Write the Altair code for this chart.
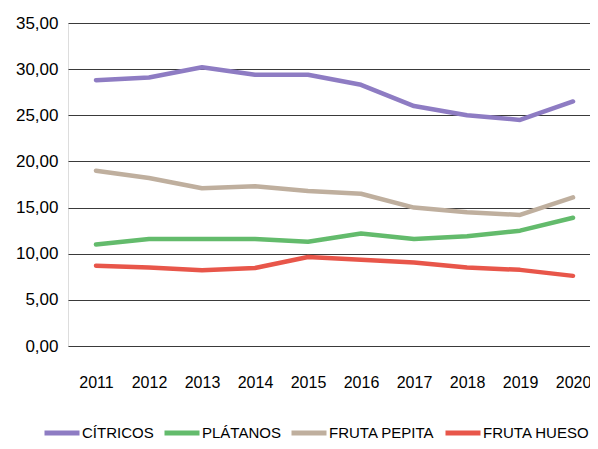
import altair as alt
import pandas as pd

years = [2011, 2012, 2013, 2014, 2015, 2016, 2017, 2018, 2019, 2020]
citricos = [28.8, 29.1, 30.2, 29.4, 29.4, 28.3, 26.0, 25.0, 24.5, 26.5]
platanos = [11.0, 11.6, 11.6, 11.6, 11.3, 12.2, 11.6, 11.9, 12.5, 13.9]
fruta_pepita = [19.0, 18.2, 17.1, 17.3, 16.8, 16.5, 15.0, 14.5, 14.2, 16.1]
fruta_hueso = [8.7, 8.5, 8.2, 8.45, 9.65, 9.35, 9.05, 8.5, 8.25, 7.6]

series_names = ["CÍTRICOS", "PLÁTANOS", "FRUTA PEPITA", "FRUTA HUESO"]
series_colors = ["#8E7CC3", "#63BB6C", "#BFAF9E", "#E8564A"]
y_ticks = [0, 5, 10, 15, 20, 25, 30, 35]

rows = []
for name, vals in zip(series_names, [citricos, platanos, fruta_pepita, fruta_hueso]):
    for yr, v in zip(years, vals):
        rows.append({"year": yr, "value": v, "serie": name})
df = pd.DataFrame(rows)

FONT = "Liberation Sans, Arial"

chart = alt.Chart(df).mark_line(strokeWidth=4.5, strokeCap="round", strokeJoin="round").encode(
    x=alt.X("year:Q",
            scale=alt.Scale(domain=[2010.472, 2020.32], nice=False, zero=False),
            axis=alt.Axis(values=years, format="d", title=None, grid=False, ticks=False,
                          domain=False, labelPadding=28, labelFontSize=16,
                          labelColor="#000", labelFont=FONT)),
    y=alt.Y("value:Q",
            scale=alt.Scale(domain=[0, 35], nice=False),
            axis=alt.Axis(values=y_ticks, format=".2f", title=None, ticks=False, domain=False,
                          gridColor="#3a3a3a", gridWidth=1, gridOpacity=1,
                          labelPadding=10, labelFontSize=17, labelColor="#000",
                          labelFont=FONT)),
    color=alt.Color("serie:N",
                    scale=alt.Scale(domain=series_names, range=series_colors),
                    legend=alt.Legend(title=None, orient="none", direction="horizontal",
                                      legendX=-26, legendY=390,
                                      symbolType="stroke", symbolSize=1225,
                                      symbolStrokeWidth=5, labelFontSize=15,
                                      labelFont=FONT, labelColor="#000",
                                      labelOffset=0, columnPadding=0)),
).properties(
    width=522, height=323,
    autosize=alt.AutoSizeParams(type="none"),
    padding={"left": 60, "top": 15, "right": 0, "bottom": 95},
).configure_view(stroke=None).configure(
    locale={"number": {"decimal": ",", "thousands": ".", "grouping": [3], "currency": ["", " €"]}}
)

chart.save("out.html", embed_options={"renderer": "svg", "actions": False})
